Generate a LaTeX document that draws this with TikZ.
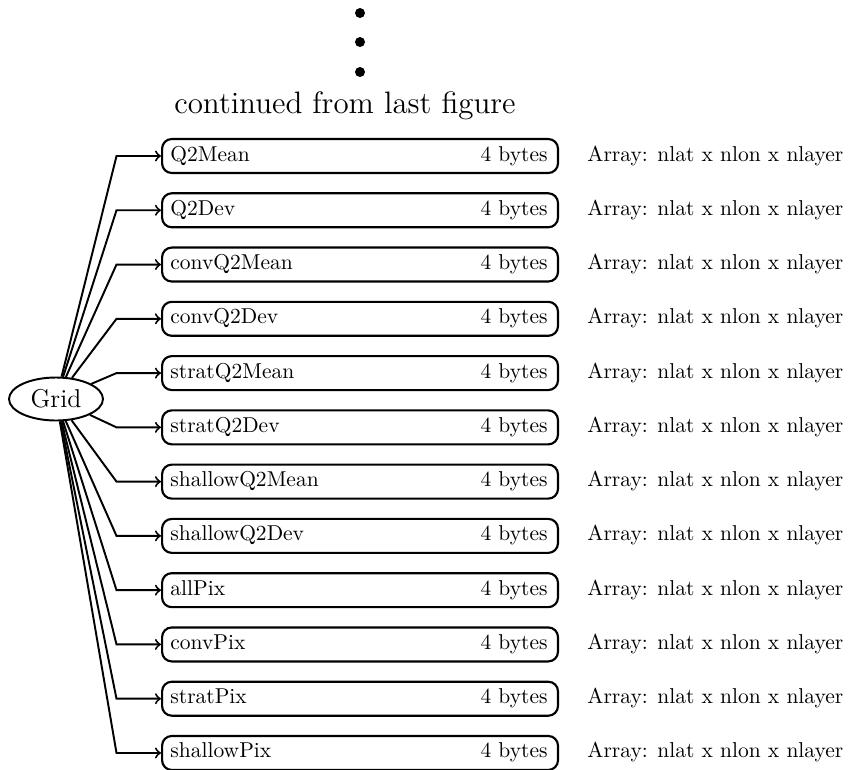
\documentclass[tikz,border=0pt]{standalone}
\usetikzlibrary{shapes.geometric}
\begin{document}
\begin{tikzpicture}[x=0.465pt,y=-0.465pt,
  fieldbox/.style={draw,line width=1pt,rounded corners=4.5pt,minimum width=184.1pt,minimum height=15.8pt,anchor=west,inner sep=0pt},
  conn/.style={line width=0.9pt,->},
  lbl/.style={inner sep=0pt}]
\useasboundingbox (0,0) rectangle (858,769);
\fill (360,13) circle (5);
\fill (360,42) circle (5);
\fill (360,72) circle (5);
\node[lbl,anchor=base,font=\Large] (cont) at (345,113) {continued from last figure};
\node[draw,line width=0.9pt,ellipse,minimum width=43.7pt,minimum height=20pt,inner sep=0pt,font=\large] (grid) at (56,399) {Grid};
\foreach \name [count=\i from 0] in {Q2Mean,Q2Dev,convQ2Mean,convQ2Dev,stratQ2Mean,stratQ2Dev,shallowQ2Mean,shallowQ2Dev,allPix,convPix,stratPix,shallowPix}{
  \pgfmathsetmacro{\yy}{156+54.27*\i}
  \node[fieldbox] (box\i) at (161,\yy) {};
  \node[lbl,anchor=base west] (name\i) at (170,\yy+5) {\name};
  \node[lbl,anchor=base east] (size\i) at (548,\yy+5) {4 bytes};
  \node[lbl,anchor=base west] (arr\i) at (587,\yy+5) {Array: nlat x nlon x nlayer};
  \coordinate (bend\i) at (116.5,\yy);
  \draw[conn] (grid) -- (bend\i) -- (box\i.west);
}
\end{tikzpicture}
\end{document}
